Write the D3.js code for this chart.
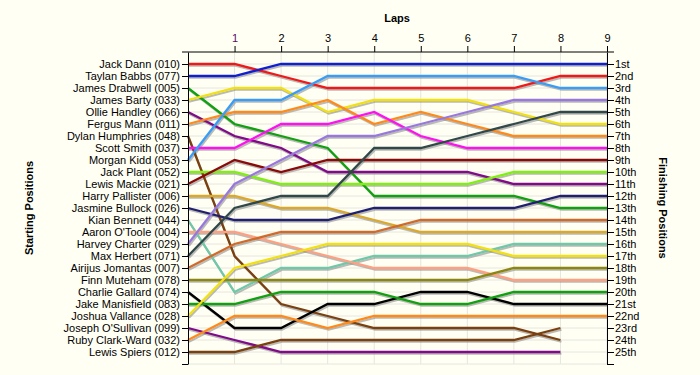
<!DOCTYPE html>
<html>
<head>
<meta charset="utf-8">
<script src="https://cdn.jsdelivr.net/npm/d3@7"></script>
<style>
  body { margin: 0; background: #fffff4; }
  svg { font-family: "Liberation Sans", Arial, sans-serif; }
  .axis text { font-size: 11px; fill: #000; }
  .axis path, .axis line { stroke: #000; }
  .title { font-size: 11px; font-weight: bold; }
</style>
</head>
<body>
<div id="chart"></div>
<script>
const laps = [0, 1, 2, 3, 4, 5, 6, 7, 8, 9]

const drivers = [
  'Jack Dann (010)', 'Taylan Babbs (077)', 'James Drabwell (005)', 'James Barty (033)',
  'Ollie Handley (066)', 'Fergus Mann (011)', 'Dylan Humphries (048)', 'Scott Smith (037)',
  'Morgan Kidd (053)', 'Jack Plant (052)', 'Lewis Mackie (021)', 'Harry Pallister (006)',
  'Jasmine Bullock (026)', 'Kian Bennett (044)', "Aaron O'Toole (004)", 'Harvey Charter (029)',
  'Max Herbert (071)', 'Airijus Jomantas (007)', 'Finn Muteham (078)', 'Charlie Gallard (074)',
  'Jake Manisfield (083)', 'Joshua Vallance (028)', "Joseph O'Sullivan (099)", 'Ruby Clark-Ward (032)',
  'Lewis Spiers (012)'
]

// position of each driver at the end of each lap (lap 0 = grid)
const positions = [
  [1, 1, 2, 3, 3, 3, 3, 3, 2, 2],
  [2, 2, 1, 1, 1, 1, 1, 1, 1, 1],
  [3, 6, 7, 8, 12, 12, 12, 12, 13, 13],
  [4, 3, 3, 5, 4, 4, 4, 5, 6, 6],
  [5, 7, 8, 10, 10, 10, 10, 11, 11, 11],
  [6, 5, 5, 4, 6, 5, 6, 7, 7, 7],
  [7, 17, 21, 22, 23, 23, 23, 23, 24],
  [8, 8, 6, 6, 5, 7, 8, 8, 8, 8],
  [9, 4, 4, 2, 2, 2, 2, 2, 3, 3],
  [10, 10, 11, 11, 11, 11, 11, 10, 10, 10],
  [11, 9, 10, 9, 9, 9, 9, 9, 9, 9],
  [12, 12, 13, 13, 14, 15, 15, 15, 15, 15],
  [13, 14, 14, 14, 13, 13, 13, 13, 12, 12],
  [14, 20, 18, 18, 17, 17, 17, 16, 16, 16],
  [15, 15, 16, 17, 18, 18, 18, 19, 19, 19],
  [16, 11, 9, 7, 7, 6, 5, 4, 4, 4],
  [17, 13, 12, 12, 8, 8, 7, 6, 5, 5],
  [18, 16, 15, 15, 15, 14, 14, 14, 14, 14],
  [19, 19, 19, 19, 19, 19, 19, 18, 18, 18],
  [20, 23, 23, 21, 21, 20, 20, 21, 21, 21],
  [21, 21, 20, 20, 20, 21, 21, 20, 20, 20],
  [22, 18, 17, 16, 16, 16, 16, 17, 17, 17],
  [23, 24, 25, 25, 25, 25, 25, 25, 25],
  [24, 22, 22, 23, 22, 22, 22, 22, 22, 22],
  [25, 25, 24, 24, 24, 24, 24, 24, 23]
]

const colours = [
  '#f01818', '#1020d0', '#10a010', '#f2e010', '#800a88', '#ff8a1a', '#7a4010', '#ff10f0',
  '#3a9cf5', '#80f010', '#8a0a0a', '#dca828', '#20206e', '#70c8a8', '#ffa080', '#9878dc',
  '#304848', '#d06a2a', '#8a8610', '#000000', '#10a010', '#f2e010', '#800a88', '#ff8a1a',
  '#7a4010'
]

const finishLabels = ['1st', '2nd', '3rd', '4th', '5th', '6th', '7th', '8th', '9th', '10th',
  '11th', '12th', '13th', '14th', '15th', '16th', '17th', '18th', '19th', '20th',
  '21st', '22nd', '23rd', '24th', '25th']

const width = 700
const height = 375
const plot = { left: 188, right: 607, top: 52, bottom: 364 }

const svg = d3.select('#chart').append('svg').attr('width', width).attr('height', height)
svg.append('rect').attr('width', width).attr('height', height).attr('fill', '#fffff4')

const x = d3.scaleLinear().domain([0, 9]).range([plot.left, plot.right])
const y = d3.scaleLinear().domain([0, 26]).range([plot.top, plot.bottom])

const rows = d3.range(1, 27)

// grid
const grid = svg.append('g').attr('class', 'grid')
grid.selectAll('line.h').data(rows).enter().append('line')
  .attr('x1', plot.left).attr('x2', plot.right)
  .attr('y1', d => y(d)).attr('y2', d => y(d))
  .attr('stroke', '#e6e6e0')
grid.selectAll('line.v').data(laps.slice(1)).enter().append('line')
  .attr('y1', plot.top).attr('y2', plot.bottom)
  .attr('x1', d => x(d)).attr('x2', d => x(d))
  .attr('stroke', '#e6e6e0')

// lines
const line = d3.line()
  .x((d, i) => x(laps[i]))
  .y(d => y(d))

const shadowGroup = svg.append('g').attr('transform', 'translate(1, 1.8)')
const lineGroup = svg.append('g')

shadowGroup.selectAll('path').data(positions).enter().append('path')
  .attr('d', line)
  .attr('fill', 'none')
  .attr('stroke', '#8c8c8c')
  .attr('stroke-opacity', 0.6)
  .attr('stroke-width', 2)

lineGroup.selectAll('path').data(positions).enter().append('path')
  .attr('d', line)
  .attr('fill', 'none')
  .attr('stroke', (d, i) => colours[i])
  .attr('stroke-width', 2.3)

// axes
const topAxis = d3.axisTop(x).tickValues(laps.slice(1)).tickSize(6).tickSizeOuter(0)
const leftAxis = d3.axisLeft(y).tickValues(rows).tickSize(6).tickSizeOuter(0)
  .tickFormat(d => drivers[d - 1] || '')
const rightAxis = d3.axisRight(y).tickValues(rows).tickSize(7).tickSizeOuter(0)
  .tickFormat(d => finishLabels[d - 1] || '')

const topG = svg.append('g').attr('class', 'axis').attr('transform', `translate(0, ${plot.top})`).call(topAxis)
topG.select('.domain').remove()
topG.append('line').attr('x1', plot.left - 6).attr('x2', plot.right + 7).attr('stroke', '#000')
topG.selectAll('.tick text').attr('dy', '-0.1em')
topG.selectAll('.tick text').filter(d => d === 1).style('fill', '#5a0a6a')

const leftG = svg.append('g').attr('class', 'axis').attr('transform', `translate(${plot.left}, 0)`).call(leftAxis)
leftG.selectAll('.tick text').attr('x', -8)

const rightG = svg.append('g').attr('class', 'axis').attr('transform', `translate(${plot.right}, 0)`).call(rightAxis)
rightG.selectAll('.tick text').attr('x', 8)

// titles
svg.append('text').attr('class', 'title').attr('x', 397).attr('y', 22).attr('text-anchor', 'middle').text('Laps')
svg.append('text').attr('class', 'title')
  .attr('transform', `translate(33, ${(plot.top + plot.bottom) / 2}) rotate(-90)`)
  .attr('text-anchor', 'middle').text('Starting Positions')
svg.append('text').attr('class', 'title')
  .attr('transform', `translate(659, ${(plot.top + plot.bottom) / 2}) rotate(90)`)
  .attr('text-anchor', 'middle').text('Finishing Positions')
</script>
</body>
</html>
